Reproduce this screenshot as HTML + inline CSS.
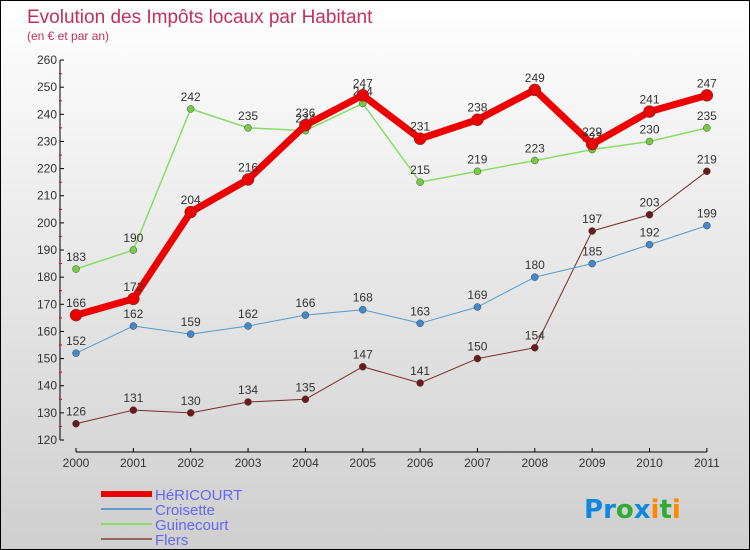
<!DOCTYPE html>
<html><head><meta charset="utf-8"><style>
html,body{margin:0;padding:0}
body{width:750px;height:550px;overflow:hidden;font-family:"Liberation Sans",sans-serif}
#wrap{position:relative;width:748px;height:548px;border:1px solid #000;background:linear-gradient(#ffffff,#cfcfcf)}
</style></head><body>
<div id="wrap">
<svg id="chart" width="748" height="548" style="position:absolute;left:0;top:0"></svg>
</div>
<script>
const years=[2000,2001,2002,2003,2004,2005,2006,2007,2008,2009,2010,2011];
const heri=[166,172,204,216,236,247,231,238,249,229,241,247];
const crois=[152,162,159,162,166,168,163,169,180,185,192,199];
const guine=[183,190,242,235,234,244,215,219,223,227,230,235];
const flers=[126,131,130,134,135,147,141,150,154,197,203,219];
const yTicks=[120,130,140,150,160,170,180,190,200,210,220,230,240,250,260];
const NS="http://www.w3.org/2000/svg";
const svg=document.getElementById('chart');
function X(i){return 75+i*57.35;}
function Y(v){return 439-(v-120)*2.714;}
function el(t,a,p){const e=document.createElementNS(NS,t);for(const k in a)e.setAttribute(k,a[k]);(p||svg).appendChild(e);return e;}
function txt(x,y,s,a,fill,size,anchor){const e=el('text',{x:x,y:y,fill:fill||'#333','font-size':size||12,'text-anchor':anchor||'middle','font-family':'Liberation Sans, sans-serif'});e.textContent=s;return e;}
let t=txt(26,22,'Evolution des Impôts locaux par Habitant',0,'#c0305a',19,'start');


t=txt(26,39,'(en € et par an)',0,'#c0305a',12,'start');


// axes
let a=el('line',{x1:59,y1:Y(260),x2:59,y2:Y(120),stroke:'#000','stroke-width':1});


a=el('line',{x1:X(0),y1:451,x2:X(11),y2:451,stroke:'#000','stroke-width':1});


yTicks.forEach(v=>{
  el('line',{x1:59,y1:Y(v),x2:63,y2:Y(v),stroke:'#000'});
  if(v<260) el('line',{x1:58,y1:Y(v+5),x2:61,y2:Y(v+5),stroke:'#e00'});
  const l=txt(56,Y(v)+4,String(v),0,'#333',12,'end');
  
  
});
years.forEach((y,i)=>{
  el('line',{x1:X(i),y1:447,x2:X(i),y2:451,stroke:'#000'});
  const l=txt(X(i),466,String(y),0,'#333',12);
  
  
});
function series(vals,color,w,r,dot,name){
  const g=el('g',{});
  
  
  el('polyline',{points:vals.map((v,i)=>X(i)+','+Y(v)).join(' '),fill:'none',stroke:color,'stroke-width':w,'stroke-linejoin':'round'},g);
  vals.forEach((v,i)=>{
    const c=el('circle',{cx:X(i),cy:Y(v),r:r,fill:dot,stroke:'#444','stroke-width':0.5},g);
    
    
    const l=txt(X(i),Y(v)-8,String(v),0,'#333',12,'middle');
    
    
    g.appendChild(l);
  });
}
series(flers,'#7a2a2a',1,3.5,'#6a1a1a','flers-series');
series(crois,'#5599cc',1,3.5,'#4488cc','croisette-series');
series(guine,'#88dd66',1.5,3.5,'#77cc44','guinecourt-series');
series(heri,'#ee0000',7,6,'#ee0000','hericourt-series');
// legend
const leg=[['HéRICOURT','#ee0000',6],['Croisette','#6699cc',2],['Guinecourt','#88dd66',2],['Flers','#996666',2]];
leg.forEach((d,i)=>{
  const g=el('g',{});
  
  
  const yy=493+i*15;
  el('line',{x1:100,y1:yy,x2:151,y2:yy,stroke:d[1],'stroke-width':d[2]},g);
  const l=txt(154,yy+6,d[0],0,'#6666ee',15,'start');
  g.appendChild(l);
});
const logo=el('text',{x:583,y:517,'font-size':26,'font-family':'DejaVu Sans, sans-serif','font-weight':'bold'});


[['P','#1188dd'],['r','#1188dd'],['o','#33aa33'],['x','#1188dd'],['i','#ff8800'],['t','#33aa33'],['i','#ff8800']].forEach(p=>{const s=el('tspan',{fill:p[1]},logo);s.textContent=p[0];});
</script>
</body></html>
